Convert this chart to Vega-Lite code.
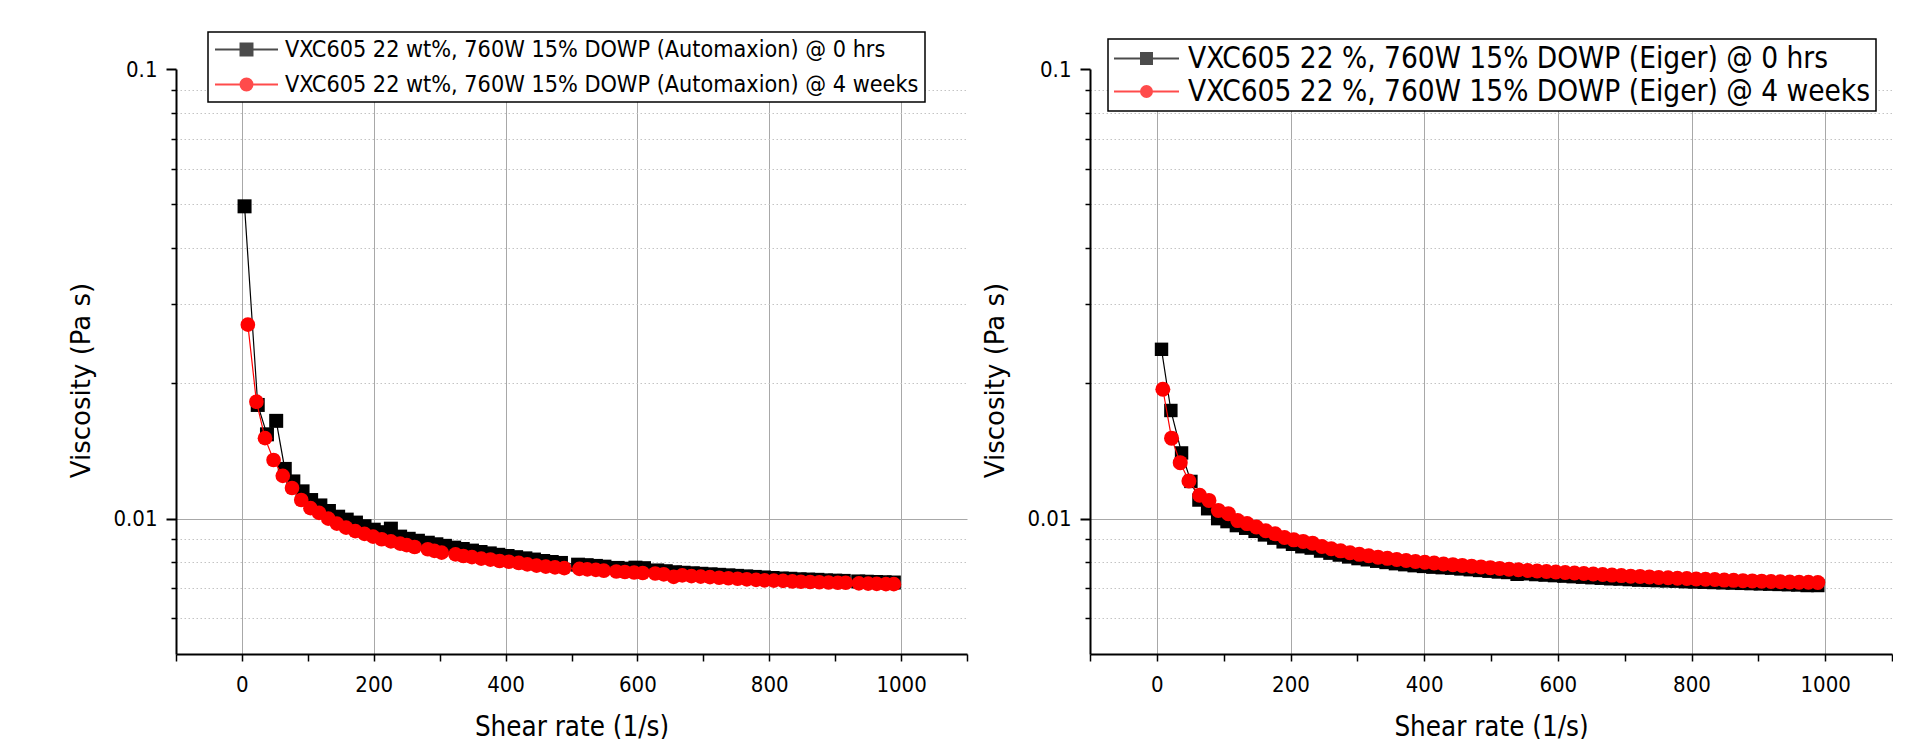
{
"$schema": "https://vega.github.io/schema/vega-lite/v6.json",
"padding": {"left": 68, "top": 31, "right": 0, "bottom": 0},
"bounds": "flush",
"spacing": 123,
"datasets": {
"L": [
{"s":"0 hrs","x":4,"v":0.0495},{"s":"0 hrs","x":24,"v":0.0179},{"s":"0 hrs","x":38,"v":0.0154},{"s":"0 hrs","x":52,"v":0.0165},{"s":"0 hrs","x":65,"v":0.0129},{"s":"0 hrs","x":78,"v":0.0121},{"s":"0 hrs","x":92,"v":0.0115},{"s":"0 hrs","x":105,"v":0.0110},{"s":"0 hrs","x":119,"v":0.0107},{"s":"0 hrs","x":132,"v":0.0104},{"s":"0 hrs","x":146,"v":0.0101},{"s":"0 hrs","x":159,"v":0.00995},{"s":"0 hrs","x":173,"v":0.0098},{"s":"0 hrs","x":186,"v":0.00962},{"s":"0 hrs","x":200,"v":0.00945},{"s":"0 hrs","x":213,"v":0.00933},{"s":"0 hrs","x":226,"v":0.0095},{"s":"0 hrs","x":240,"v":0.00912},{"s":"0 hrs","x":253,"v":0.00902},{"s":"0 hrs","x":267,"v":0.00893},{"s":"0 hrs","x":282,"v":0.00884},{"s":"0 hrs","x":295,"v":0.00877},{"s":"0 hrs","x":308,"v":0.0087},{"s":"0 hrs","x":322,"v":0.00862},{"s":"0 hrs","x":335,"v":0.00856},{"s":"0 hrs","x":349,"v":0.00849},{"s":"0 hrs","x":362,"v":0.00843},{"s":"0 hrs","x":376,"v":0.00837},{"s":"0 hrs","x":389,"v":0.00831},{"s":"0 hrs","x":403,"v":0.00826},{"s":"0 hrs","x":416,"v":0.00821},{"s":"0 hrs","x":430,"v":0.00816},{"s":"0 hrs","x":443,"v":0.00811},{"s":"0 hrs","x":457,"v":0.00805},{"s":"0 hrs","x":470,"v":0.00801},{"s":"0 hrs","x":484,"v":0.00797},{"s":"0 hrs","x":510,"v":0.0079},{"s":"0 hrs","x":523,"v":0.00788},{"s":"0 hrs","x":537,"v":0.00785},{"s":"0 hrs","x":550,"v":0.00782},{"s":"0 hrs","x":570,"v":0.00777},{"s":"0 hrs","x":583,"v":0.00774},{"s":"0 hrs","x":597,"v":0.00778},{"s":"0 hrs","x":610,"v":0.00776},{"s":"0 hrs","x":630,"v":0.00767},{"s":"0 hrs","x":643,"v":0.00764},{"s":"0 hrs","x":657,"v":0.0076},{"s":"0 hrs","x":670,"v":0.00758},{"s":"0 hrs","x":684,"v":0.00756},{"s":"0 hrs","x":697,"v":0.00754},{"s":"0 hrs","x":711,"v":0.00752},{"s":"0 hrs","x":724,"v":0.0075},{"s":"0 hrs","x":738,"v":0.00748},{"s":"0 hrs","x":751,"v":0.00746},{"s":"0 hrs","x":765,"v":0.00744},{"s":"0 hrs","x":778,"v":0.00742},{"s":"0 hrs","x":792,"v":0.0074},{"s":"0 hrs","x":805,"v":0.00738},{"s":"0 hrs","x":819,"v":0.00736},{"s":"0 hrs","x":832,"v":0.00735},{"s":"0 hrs","x":846,"v":0.00733},{"s":"0 hrs","x":859,"v":0.00732},{"s":"0 hrs","x":873,"v":0.00731},{"s":"0 hrs","x":886,"v":0.00729},{"s":"0 hrs","x":900,"v":0.00728},{"s":"0 hrs","x":913,"v":0.00727},{"s":"0 hrs","x":935,"v":0.00725},{"s":"0 hrs","x":948,"v":0.00724},{"s":"0 hrs","x":962,"v":0.00723},{"s":"0 hrs","x":975,"v":0.00722},{"s":"0 hrs","x":989,"v":0.00721},
{"s":"4 weeks","x":9,"v":0.027},{"s":"4 weeks","x":22,"v":0.0182},{"s":"4 weeks","x":35,"v":0.0151},{"s":"4 weeks","x":48,"v":0.0135},{"s":"4 weeks","x":62,"v":0.01245},{"s":"4 weeks","x":76,"v":0.0117},{"s":"4 weeks","x":90,"v":0.011},{"s":"4 weeks","x":104,"v":0.01055},{"s":"4 weeks","x":117,"v":0.0103},{"s":"4 weeks","x":131,"v":0.01},{"s":"4 weeks","x":144,"v":0.00975},{"s":"4 weeks","x":158,"v":0.00955},{"s":"4 weeks","x":172,"v":0.00938},{"s":"4 weeks","x":186,"v":0.00925},{"s":"4 weeks","x":199,"v":0.00912},{"s":"4 weeks","x":212,"v":0.009},{"s":"4 weeks","x":226,"v":0.0089},{"s":"4 weeks","x":240,"v":0.0088},{"s":"4 weeks","x":250,"v":0.00873},{"s":"4 weeks","x":262,"v":0.00865},{"s":"4 weeks","x":282,"v":0.00855},{"s":"4 weeks","x":292,"v":0.00848},{"s":"4 weeks","x":303,"v":0.0084},{"s":"4 weeks","x":324,"v":0.00833},{"s":"4 weeks","x":336,"v":0.00826},{"s":"4 weeks","x":349,"v":0.00821},{"s":"4 weeks","x":363,"v":0.00815},{"s":"4 weeks","x":377,"v":0.00811},{"s":"4 weeks","x":391,"v":0.00805},{"s":"4 weeks","x":405,"v":0.00802},{"s":"4 weeks","x":420,"v":0.00797},{"s":"4 weeks","x":433,"v":0.00791},{"s":"4 weeks","x":447,"v":0.00786},{"s":"4 weeks","x":461,"v":0.00782},{"s":"4 weeks","x":475,"v":0.00779},{"s":"4 weeks","x":489,"v":0.00776},{"s":"4 weeks","x":512,"v":0.00773},{"s":"4 weeks","x":524,"v":0.00771},{"s":"4 weeks","x":537,"v":0.00769},{"s":"4 weeks","x":549,"v":0.00766},{"s":"4 weeks","x":568,"v":0.00763},{"s":"4 weeks","x":581,"v":0.00761},{"s":"4 weeks","x":595,"v":0.00759},{"s":"4 weeks","x":608,"v":0.00757},{"s":"4 weeks","x":627,"v":0.00755},{"s":"4 weeks","x":640,"v":0.00752},{"s":"4 weeks","x":655,"v":0.00742},{"s":"4 weeks","x":668,"v":0.00748},{"s":"4 weeks","x":682,"v":0.00745},{"s":"4 weeks","x":696,"v":0.00743},{"s":"4 weeks","x":710,"v":0.00741},{"s":"4 weeks","x":724,"v":0.00739},{"s":"4 weeks","x":738,"v":0.00737},{"s":"4 weeks","x":752,"v":0.00735},{"s":"4 weeks","x":766,"v":0.00733},{"s":"4 weeks","x":780,"v":0.00731},{"s":"4 weeks","x":793,"v":0.00729},{"s":"4 weeks","x":807,"v":0.00728},{"s":"4 weeks","x":821,"v":0.00727},{"s":"4 weeks","x":835,"v":0.00725},{"s":"4 weeks","x":848,"v":0.00724},{"s":"4 weeks","x":862,"v":0.00723},{"s":"4 weeks","x":876,"v":0.00722},{"s":"4 weeks","x":890,"v":0.00721},{"s":"4 weeks","x":904,"v":0.0072},{"s":"4 weeks","x":916,"v":0.0072},{"s":"4 weeks","x":936,"v":0.00718},{"s":"4 weeks","x":950,"v":0.00717},{"s":"4 weeks","x":963,"v":0.00716},{"s":"4 weeks","x":977,"v":0.00715},{"s":"4 weeks","x":989,"v":0.00715}
],
"R": [
{"s":"0 hrs","x":7,"v":0.0238},{"s":"0 hrs","x":21,"v":0.0174},{"s":"0 hrs","x":37,"v":0.014},{"s":"0 hrs","x":51,"v":0.0121},{"s":"0 hrs","x":63,"v":0.011},{"s":"0 hrs","x":76,"v":0.01052},{"s":"0 hrs","x":91,"v":0.01},{"s":"0 hrs","x":105,"v":0.00985},{"s":"0 hrs","x":119,"v":0.00965},{"s":"0 hrs","x":133,"v":0.00952},{"s":"0 hrs","x":147,"v":0.00937},{"s":"0 hrs","x":161,"v":0.0092},{"s":"0 hrs","x":175,"v":0.00905},{"s":"0 hrs","x":189,"v":0.00888},{"s":"0 hrs","x":203,"v":0.00877},{"s":"0 hrs","x":217,"v":0.00866},{"s":"0 hrs","x":231,"v":0.0086},{"s":"0 hrs","x":245,"v":0.00847},{"s":"0 hrs","x":259,"v":0.00838},{"s":"0 hrs","x":273,"v":0.0083},{"s":"0 hrs","x":287,"v":0.00822},{"s":"0 hrs","x":301,"v":0.00815},{"s":"0 hrs","x":315,"v":0.0081},{"s":"0 hrs","x":329,"v":0.00804},{"s":"0 hrs","x":343,"v":0.00799},{"s":"0 hrs","x":357,"v":0.00794},{"s":"0 hrs","x":371,"v":0.0079},{"s":"0 hrs","x":385,"v":0.00786},{"s":"0 hrs","x":399,"v":0.00783},{"s":"0 hrs","x":413,"v":0.0078},{"s":"0 hrs","x":427,"v":0.00778},{"s":"0 hrs","x":441,"v":0.00776},{"s":"0 hrs","x":455,"v":0.00773},{"s":"0 hrs","x":469,"v":0.0077},{"s":"0 hrs","x":483,"v":0.00767},{"s":"0 hrs","x":497,"v":0.00764},{"s":"0 hrs","x":511,"v":0.00761},{"s":"0 hrs","x":525,"v":0.00759},{"s":"0 hrs","x":539,"v":0.00752},{"s":"0 hrs","x":553,"v":0.00754},{"s":"0 hrs","x":567,"v":0.00751},{"s":"0 hrs","x":581,"v":0.00749},{"s":"0 hrs","x":595,"v":0.00747},{"s":"0 hrs","x":609,"v":0.00745},{"s":"0 hrs","x":623,"v":0.00743},{"s":"0 hrs","x":637,"v":0.00741},{"s":"0 hrs","x":651,"v":0.00739},{"s":"0 hrs","x":665,"v":0.00737},{"s":"0 hrs","x":679,"v":0.00735},{"s":"0 hrs","x":693,"v":0.00734},{"s":"0 hrs","x":707,"v":0.00732},{"s":"0 hrs","x":721,"v":0.0073},{"s":"0 hrs","x":735,"v":0.00729},{"s":"0 hrs","x":749,"v":0.00728},{"s":"0 hrs","x":763,"v":0.00727},{"s":"0 hrs","x":777,"v":0.00726},{"s":"0 hrs","x":791,"v":0.00724},{"s":"0 hrs","x":805,"v":0.00723},{"s":"0 hrs","x":819,"v":0.00722},{"s":"0 hrs","x":833,"v":0.00721},{"s":"0 hrs","x":847,"v":0.0072},{"s":"0 hrs","x":861,"v":0.00719},{"s":"0 hrs","x":875,"v":0.00718},{"s":"0 hrs","x":889,"v":0.00717},{"s":"0 hrs","x":903,"v":0.00716},{"s":"0 hrs","x":917,"v":0.00715},{"s":"0 hrs","x":931,"v":0.00714},{"s":"0 hrs","x":945,"v":0.00713},{"s":"0 hrs","x":959,"v":0.00712},{"s":"0 hrs","x":973,"v":0.0071},{"s":"0 hrs","x":989,"v":0.0071},
{"s":"4 weeks","x":9,"v":0.0194},{"s":"4 weeks","x":22,"v":0.0151},{"s":"4 weeks","x":35,"v":0.01332},{"s":"4 weeks","x":48,"v":0.01213},{"s":"4 weeks","x":64,"v":0.01127},{"s":"4 weeks","x":78,"v":0.01098},{"s":"4 weeks","x":92,"v":0.01043},{"s":"4 weeks","x":107,"v":0.01026},{"s":"4 weeks","x":121,"v":0.0099},{"s":"4 weeks","x":135,"v":0.00975},{"s":"4 weeks","x":149,"v":0.00958},{"s":"4 weeks","x":163,"v":0.0094},{"s":"4 weeks","x":177,"v":0.00925},{"s":"4 weeks","x":191,"v":0.00908},{"s":"4 weeks","x":205,"v":0.00897},{"s":"4 weeks","x":219,"v":0.0089},{"s":"4 weeks","x":233,"v":0.00882},{"s":"4 weeks","x":247,"v":0.00867},{"s":"4 weeks","x":261,"v":0.00857},{"s":"4 weeks","x":275,"v":0.00848},{"s":"4 weeks","x":289,"v":0.0084},{"s":"4 weeks","x":303,"v":0.00833},{"s":"4 weeks","x":317,"v":0.00827},{"s":"4 weeks","x":331,"v":0.00821},{"s":"4 weeks","x":345,"v":0.00816},{"s":"4 weeks","x":359,"v":0.00811},{"s":"4 weeks","x":373,"v":0.00807},{"s":"4 weeks","x":387,"v":0.00803},{"s":"4 weeks","x":401,"v":0.008},{"s":"4 weeks","x":415,"v":0.00797},{"s":"4 weeks","x":429,"v":0.00793},{"s":"4 weeks","x":443,"v":0.0079},{"s":"4 weeks","x":457,"v":0.00787},{"s":"4 weeks","x":471,"v":0.00784},{"s":"4 weeks","x":485,"v":0.00781},{"s":"4 weeks","x":499,"v":0.00778},{"s":"4 weeks","x":513,"v":0.00775},{"s":"4 weeks","x":527,"v":0.00772},{"s":"4 weeks","x":541,"v":0.0077},{"s":"4 weeks","x":555,"v":0.00767},{"s":"4 weeks","x":569,"v":0.00765},{"s":"4 weeks","x":583,"v":0.00763},{"s":"4 weeks","x":597,"v":0.00761},{"s":"4 weeks","x":611,"v":0.00759},{"s":"4 weeks","x":625,"v":0.00757},{"s":"4 weeks","x":639,"v":0.00755},{"s":"4 weeks","x":653,"v":0.00753},{"s":"4 weeks","x":667,"v":0.00751},{"s":"4 weeks","x":681,"v":0.00749},{"s":"4 weeks","x":695,"v":0.00747},{"s":"4 weeks","x":709,"v":0.00745},{"s":"4 weeks","x":723,"v":0.00744},{"s":"4 weeks","x":737,"v":0.00742},{"s":"4 weeks","x":751,"v":0.0074},{"s":"4 weeks","x":765,"v":0.00739},{"s":"4 weeks","x":779,"v":0.00737},{"s":"4 weeks","x":793,"v":0.00736},{"s":"4 weeks","x":807,"v":0.00734},{"s":"4 weeks","x":821,"v":0.00733},{"s":"4 weeks","x":835,"v":0.00732},{"s":"4 weeks","x":849,"v":0.0073},{"s":"4 weeks","x":863,"v":0.00729},{"s":"4 weeks","x":877,"v":0.00728},{"s":"4 weeks","x":891,"v":0.00727},{"s":"4 weeks","x":905,"v":0.00726},{"s":"4 weeks","x":919,"v":0.00725},{"s":"4 weeks","x":933,"v":0.00724},{"s":"4 weeks","x":947,"v":0.00723},{"s":"4 weeks","x":961,"v":0.00722},{"s":"4 weeks","x":975,"v":0.00722},{"s":"4 weeks","x":989,"v":0.00721}
]
},
"hconcat": [
{
"width": 791, "height": 585,
"data": {"name": "L"},
"resolve": {"axis": {"x": "independent", "y": "independent"}},
"layer": [
{"transform": [{"filter": "datum.s == '0 hrs'"}],
 "mark": {"type": "line", "color": "#000000", "strokeWidth": 1.2},
 "encoding": {
  "x": {"field": "x", "type": "quantitative", "scale": {"domain": [-100, 1100], "nice": false, "zero": false},
        "axis": {"orient": "bottom", "values": [0,200,400,600,800,1000], "format": "d", "grid": true, "gridColor": "#a8a8a8", "gridWidth": 1, "tickSize": 7, "tickWidth": 1.5, "labelPadding": 13, "domainWidth": 2, "title": "Shear rate (1/s)", "titleY": 81, "titleBaseline": "alphabetic"}},
  "y": {"field": "v", "type": "quantitative", "scale": {"type": "log", "domain": [0.005, 0.1], "nice": false},
        "axis": {"orient": "left", "values": [0.01, 0.1], "format": "~g", "grid": true, "gridColor": "#a8a8a8", "gridOpacity": {"condition": {"test": "datum.value > 0.05", "value": 0}, "value": 1}, "tickSize": 10, "tickWidth": 2, "labelPadding": 9, "domainWidth": 2, "title": "Viscosity (Pa s)", "titleX": -95, "titleY": 311, "titleAlign": "center", "titleBaseline": "middle"}}
 }},
{"transform": [{"filter": "datum.s == '0 hrs'"}],
 "mark": {"type": "point", "shape": "square", "filled": true, "color": "#000000", "opacity": 1, "size": 196, "strokeWidth": 0},
 "encoding": {
  "x": {"field": "x", "type": "quantitative", "axis": {"orient": "bottom", "values": [-100,100,300,500,700,900,1100], "grid": false, "labels": false, "tickSize": 7, "tickWidth": 1.5, "domain": false, "title": null}},
  "y": {"field": "v", "type": "quantitative", "axis": {"orient": "left", "values": [0.006,0.007,0.008,0.009,0.02,0.03,0.04,0.05,0.06,0.07,0.08,0.09], "grid": true, "gridColor": "#c4c4c4", "gridDash": [1.5, 2.5], "gridWidth": 1, "labels": false, "tickSize": 5, "tickWidth": 1.5, "domain": false, "title": null}}
 }},
{"transform": [{"filter": "datum.s == '4 weeks'"}],
 "mark": {"type": "line", "color": "#ff0000", "strokeWidth": 1.2},
 "encoding": {
  "x": {"field": "x", "type": "quantitative", "axis": null},
  "y": {"field": "v", "type": "quantitative", "axis": null}
 }},
{"transform": [{"filter": "datum.s == '4 weeks'"}],
 "mark": {"type": "point", "shape": "circle", "filled": true, "color": "#ff0000", "opacity": 1, "size": 215, "strokeWidth": 0},
 "encoding": {
  "x": {"field": "x", "type": "quantitative", "axis": null},
  "y": {"field": "v", "type": "quantitative", "axis": null}
 }},
{"transform": [{"filter": "datum.x < 0"}],
 "mark": {"type": "point", "filled": true},
 "encoding": {
  "x": {"field": "x", "type": "quantitative", "axis": null},
  "y": {"field": "v", "type": "quantitative", "axis": null},
  "color": {"field": "s", "type": "nominal", "scale": {"domain": ["0 hrs", "4 weeks"], "range": ["#000000", "#ff0000"]},
   "legend": {"orient": "none", "legendX": 32, "legendY": -37, "title": null, "direction": "vertical", "padding": 6, "rowPadding": 11, "clipHeight": 23, "labelFontSize": 23.2, "labelLimit": 2000, "labelOffset": 6, "symbolSize": 3969, "symbolStrokeWidth": 2, "symbolOpacity": 1, "fillColor": "white", "strokeColor": "black",
    "labelExpr": "'VXC605 22 wt%, 760W 15% DOWP (Automaxion) @ ' + datum.label"}},
  "shape": {"field": "s", "type": "nominal", "scale": {"domain": ["0 hrs", "4 weeks"], "range": ["M-1,0H1M-0.19,-0.19H0.19V0.19H-0.19ZM-0.19,-0.127H0.19M-0.19,-0.0635H0.19M-0.19,0.0635H0.19M-0.19,0.127H0.19", "M-1,0H1M-0.19,0A0.19,0.19,0,1,1,0.19,0A0.19,0.19,0,1,1,-0.19,0M-0.18,-0.0635H0.18M-0.18,0.0635H0.18M-0.142,-0.127H0.142M-0.142,0.127H0.142"]}},
  "stroke": {"field": "s", "type": "nominal", "scale": {"domain": ["0 hrs", "4 weeks"], "range": ["#000000", "#ff0000"]}}
 }}
]
},
{
"width": 802, "height": 585,
"data": {"name": "R"},
"resolve": {"axis": {"x": "independent", "y": "independent"}},
"layer": [
{"transform": [{"filter": "datum.s == '0 hrs'"}],
 "mark": {"type": "line", "color": "#000000", "strokeWidth": 1.2},
 "encoding": {
  "x": {"field": "x", "type": "quantitative", "scale": {"domain": [-100, 1100], "nice": false, "zero": false},
        "axis": {"orient": "bottom", "values": [0,200,400,600,800,1000], "format": "d", "grid": true, "gridColor": "#a8a8a8", "gridWidth": 1, "tickSize": 7, "tickWidth": 1.5, "labelPadding": 13, "domainWidth": 2, "title": "Shear rate (1/s)", "titleY": 81, "titleBaseline": "alphabetic"}},
  "y": {"field": "v", "type": "quantitative", "scale": {"type": "log", "domain": [0.005, 0.1], "nice": false},
        "axis": {"orient": "left", "values": [0.01, 0.1], "format": "~g", "grid": true, "gridColor": "#a8a8a8", "gridOpacity": {"condition": {"test": "datum.value > 0.05", "value": 0}, "value": 1}, "tickSize": 10, "tickWidth": 2, "labelPadding": 9, "domainWidth": 2, "title": "Viscosity (Pa s)", "titleX": -95, "titleY": 311, "titleAlign": "center", "titleBaseline": "middle"}}
 }},
{"transform": [{"filter": "datum.s == '0 hrs'"}],
 "mark": {"type": "point", "shape": "square", "filled": true, "color": "#000000", "opacity": 1, "size": 180, "strokeWidth": 0},
 "encoding": {
  "x": {"field": "x", "type": "quantitative", "axis": {"orient": "bottom", "values": [-100,100,300,500,700,900,1100], "grid": false, "labels": false, "tickSize": 7, "tickWidth": 1.5, "domain": false, "title": null}},
  "y": {"field": "v", "type": "quantitative", "axis": {"orient": "left", "values": [0.006,0.007,0.008,0.009,0.02,0.03,0.04,0.05,0.06,0.07,0.08,0.09], "grid": true, "gridColor": "#c4c4c4", "gridDash": [1.5, 2.5], "gridWidth": 1, "labels": false, "tickSize": 5, "tickWidth": 1.5, "domain": false, "title": null}}
 }},
{"transform": [{"filter": "datum.s == '4 weeks'"}],
 "mark": {"type": "line", "color": "#ff0000", "strokeWidth": 1.2},
 "encoding": {
  "x": {"field": "x", "type": "quantitative", "axis": null},
  "y": {"field": "v", "type": "quantitative", "axis": null}
 }},
{"transform": [{"filter": "datum.s == '4 weeks'"}],
 "mark": {"type": "point", "shape": "circle", "filled": true, "color": "#ff0000", "opacity": 1, "size": 225, "strokeWidth": 0},
 "encoding": {
  "x": {"field": "x", "type": "quantitative", "axis": null},
  "y": {"field": "v", "type": "quantitative", "axis": null}
 }},
{"transform": [{"filter": "datum.x < 0"}],
 "mark": {"type": "point", "filled": true},
 "encoding": {
  "x": {"field": "x", "type": "quantitative", "axis": null},
  "y": {"field": "v", "type": "quantitative", "axis": null},
  "color": {"field": "s", "type": "nominal", "scale": {"domain": ["0 hrs", "4 weeks"], "range": ["#000000", "#ff0000"]},
   "legend": {"orient": "none", "legendX": 18, "legendY": -30, "title": null, "direction": "vertical", "padding": 5, "rowPadding": 3, "clipHeight": 29, "labelFontSize": 29.5, "labelLimit": 2000, "labelOffset": 8, "symbolSize": 4225, "symbolStrokeWidth": 2, "symbolOpacity": 1, "fillColor": "white", "strokeColor": "black",
    "labelExpr": "'VXC605 22 %, 760W 15% DOWP (Eiger) @ ' + datum.label"}},
  "shape": {"field": "s", "type": "nominal", "scale": {"domain": ["0 hrs", "4 weeks"], "range": ["M-1,0H1M-0.169,-0.169H0.169V0.169H-0.169ZM-0.169,-0.123H0.169M-0.169,-0.0615H0.169M-0.169,0.0615H0.169M-0.169,0.123H0.169", "M-1,0H1M-0.169,0A0.169,0.169,0,1,1,0.169,0A0.169,0.169,0,1,1,-0.169,0M-0.158,-0.0615H0.158M-0.158,0.0615H0.158M-0.116,-0.123H0.116M-0.116,0.123H0.116"]}},
  "stroke": {"field": "s", "type": "nominal", "scale": {"domain": ["0 hrs", "4 weeks"], "range": ["#000000", "#ff0000"]}}
 }}
]
}
],
"resolve": {"scale": {"x": "independent", "y": "independent", "color": "independent", "shape": "independent", "stroke": "independent"}, "legend": {"color": "independent", "shape": "independent", "stroke": "independent"}},
"config": {
 "view": {"stroke": null},
 "background": "white",
 "axis": {"labelFont": "DejaVu Sans Condensed", "labelFontSize": 22, "labelColor": "#000000", "labelFlush": false, "labelOverlap": false, "tickColor": "#000000", "domainColor": "#000000", "titleColor": "#000000", "titleFontWeight": "normal"},
 "axisX": {"titleFont": "DejaVu Sans Condensed", "titleFontSize": 27.5},
 "axisY": {"titleFont": "DejaVu Sans", "titleFontSize": 26},
 "legend": {"labelFont": "DejaVu Sans Condensed", "labelColor": "#000000", "strokeWidth": 1.5}
}
}
